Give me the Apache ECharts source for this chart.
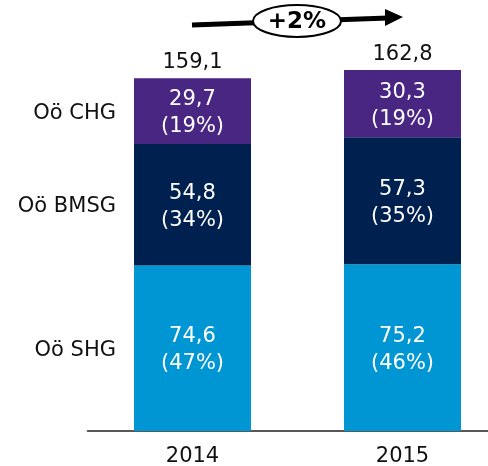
<!DOCTYPE html>
<html>
<head>
<meta charset="utf-8">
<script src="https://cdn.jsdelivr.net/npm/echarts@6/dist/echarts.min.js"></script>
<style>html,body{margin:0;padding:0;background:#fff}#c{width:488px;height:466px}</style>
</head>
<body>
<div id="c"></div>
<script>
var categories = ['2014', '2015'];
var seriesNames = ['Oö SHG', 'Oö BMSG', 'Oö CHG'];
var shg = [74.6, 75.2];
var bmsg = [54.8, 57.3];
var chg = [29.7, 30.3];
var totals = [159.1, 162.8];
var growthLabel = '+2%';

var FONT = 'DejaVu Sans';
var FS = 21;
var colors = ['#0096D4', '#00204F', '#4A2683'];
function fmt(v){ return v.toFixed(1).replace('.', ','); }
function pct(v, i){ return Math.round(v / totals[i] * 100) + '%'; }

var dataSets = [shg, bmsg, chg];
var series = dataSets.map(function(arr, k){
  return {
    name: seriesNames[k], type: 'bar', stack: 's', barWidth: 117,
    itemStyle: {color: colors[k]},
    label: {show: true, position: 'inside', offset: [0, 2], color: '#fff', fontFamily: FONT, fontSize: FS, lineHeight: 27,
      formatter: function(p){ return fmt(p.value) + '\n(' + pct(p.value, p.dataIndex) + ')'; }},
    data: arr
  };
});
series.push({
  name: 'total', type: 'bar', stack: 's', barWidth: 117, data: categories.map(function(){return 0;}),
  itemStyle: {color: 'transparent'},
  label: {show: true, position: 'top', distance: 5, color: '#111', fontFamily: FONT, fontSize: FS,
    formatter: function(p){ return fmt(totals[p.dataIndex]); }}
});

var chart = echarts.init(document.getElementById('c'));
chart.setOption({
  animation: false,
  grid: {left: 87.5, width: 420, top: 54, bottom: 35, containLabel: false, outerBoundsMode: 'none'},
  xAxis: {type: 'category', data: categories,
    axisLine: {lineStyle: {color: '#222', width: 1.5}}, axisTick: {show: false},
    axisLabel: {color: '#111', fontFamily: FONT, fontSize: FS, margin: 15}},
  yAxis: {type: 'value', min: 0, max: 170, show: false, splitLine: {show: false}},
  series: series
});

// side labels at middle of the first bar's segments
var graphics = [];
var cum = 0;
dataSets.forEach(function(arr, k){
  var mid = cum + arr[0] / 2; cum += arr[0];
  var py = chart.convertToPixel({gridIndex: 0}, [0, mid])[1];
  graphics.push({type: 'text', x: 116, y: py + 2,
    style: {text: seriesNames[k], fill: '#111', font: FS + 'px "DejaVu Sans"', textAlign: 'right', textVerticalAlign: 'middle'}});
});
// growth arrow
graphics.push({type: 'line', shape: {x1: 192, y1: 25, x2: 388, y2: 18}, style: {stroke: '#000', lineWidth: 5}});
graphics.push({type: 'polygon', shape: {points: [[385, 9], [403, 17], [385, 26]]}, style: {fill: '#000'}});
graphics.push({type: 'ellipse', shape: {cx: 297, cy: 21, rx: 44, ry: 16}, style: {fill: '#fff', stroke: '#000', lineWidth: 2}});
graphics.push({type: 'text', x: 297, y: 22, style: {text: growthLabel, fill: '#000', font: 'bold 23px "DejaVu Sans"', textAlign: 'center', textVerticalAlign: 'middle'}});
chart.setOption({graphic: graphics});
</script>
</body>
</html>
